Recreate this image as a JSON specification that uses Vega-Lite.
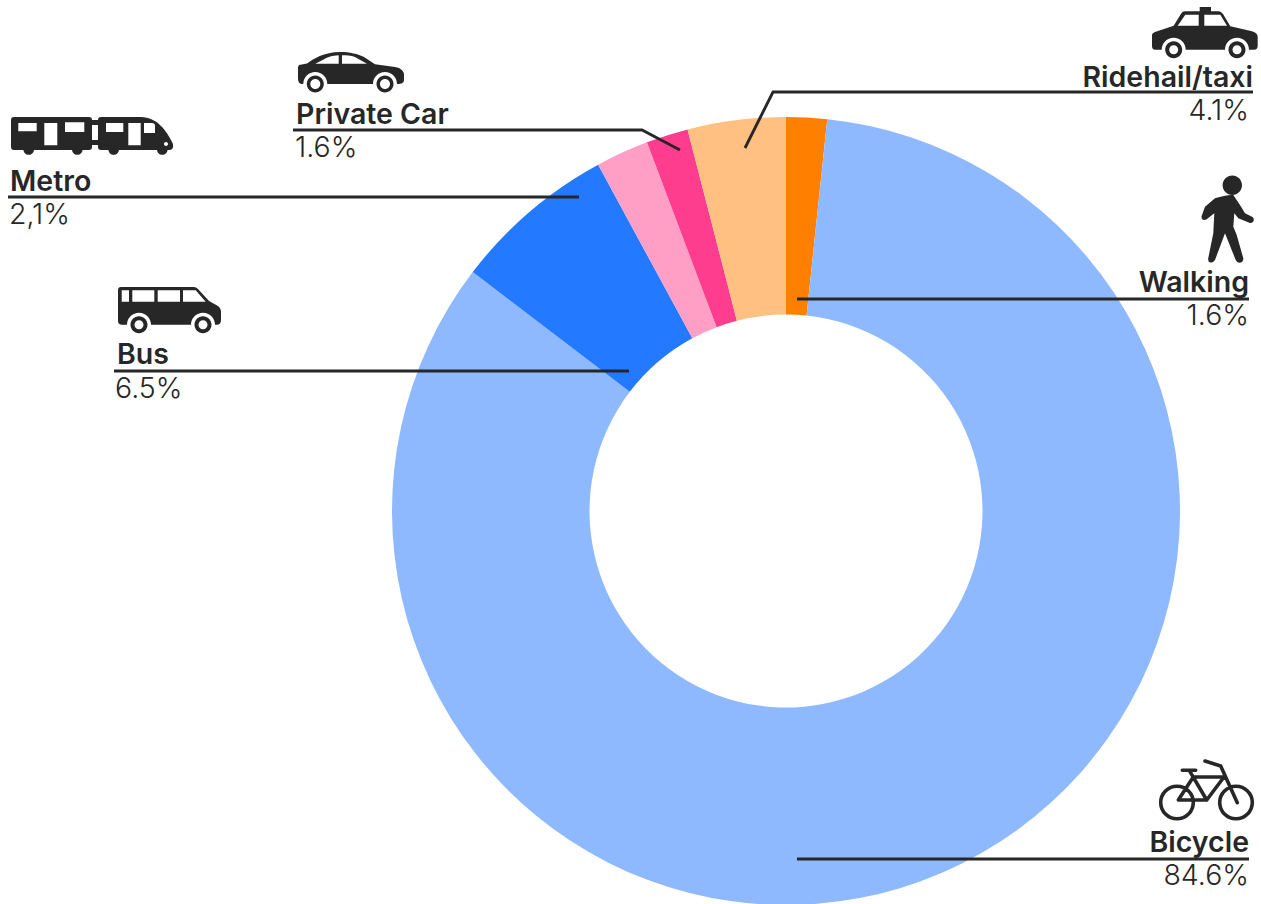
{
"$schema":"https://vega.github.io/schema/vega-lite/v6.json",
"width":1261,"height":904,"padding":0,
"autosize":{"type":"none"},
"background":"white",
"config":{"view":{"stroke":null}},
"datasets":{
"modes":[
{"mode":"Walking","rank":1,"share":1.67},
{"mode":"Bicycle","rank":2,"share":83.7},
{"mode":"Bus","rank":3,"share":6.72},
{"mode":"Metro","rank":4,"share":2.17},
{"mode":"Private Car","rank":5,"share":1.72},
{"mode":"Ridehail/taxi","rank":6,"share":4.02}
],
"callouts":[
{"mode":"Metro","pct":"2,1%","side":"left","nameX":10,"nameY":191,"pctX":9,"pctY":224,"iconX":11,"iconY":117},
{"mode":"Private Car","pct":"1.6%","side":"left","nameX":296,"nameY":124,"pctX":295,"pctY":157,"iconX":298,"iconY":52},
{"mode":"Bus","pct":"6.5%","side":"left","nameX":117,"nameY":364,"pctX":115,"pctY":398,"iconX":118,"iconY":287},
{"mode":"Ridehail/taxi","pct":"4.1%","side":"right","nameX":1253,"nameY":87,"pctX":1249,"pctY":120,"iconX":1152,"iconY":7},
{"mode":"Walking","pct":"1.6%","side":"right","nameX":1249,"nameY":292,"pctX":1249,"pctY":325,"iconX":1202,"iconY":177},
{"mode":"Bicycle","pct":"84.6%","side":"right","nameX":1249,"nameY":852,"pctX":1249,"pctY":885,"iconX":1160,"iconY":760}
],
"leaders":[
{"mode":"Metro","step":1,"px":8,"py":197},{"mode":"Metro","step":2,"px":579,"py":197},
{"mode":"Private Car","step":1,"px":293,"py":130},{"mode":"Private Car","step":2,"px":642,"py":130},{"mode":"Private Car","step":3,"px":680,"py":150},
{"mode":"Bus","step":1,"px":114,"py":371},{"mode":"Bus","step":2,"px":629,"py":371},
{"mode":"Ridehail/taxi","step":1,"px":1253,"py":92},{"mode":"Ridehail/taxi","step":2,"px":773,"py":92},{"mode":"Ridehail/taxi","step":3,"px":745,"py":148},
{"mode":"Walking","step":1,"px":1249,"py":299},{"mode":"Walking","step":2,"px":797,"py":299},
{"mode":"Bicycle","step":1,"px":1249,"py":859},{"mode":"Bicycle","step":2,"px":797,"py":859}
]
},
"layer":[
{"data":{"name":"modes"},
 "mark":{"type":"arc","outerRadius":394,"innerRadius":196.5,"stroke":null},
 "encoding":{
  "theta":{"field":"share","type":"quantitative","stack":true},
  "order":{"field":"rank","type":"ordinal"},
  "x":{"datum":786,"type":"quantitative","scale":{"domain":[0,1261],"nice":false,"zero":false},"axis":null},
  "y":{"datum":511,"type":"quantitative","scale":{"domain":[0,904],"nice":false,"zero":false,"reverse":true},"axis":null},
  "color":{"field":"mode","type":"nominal","legend":null,"scale":{"domain":["Walking","Bicycle","Bus","Metro","Private Car","Ridehail/taxi"],"range":["#ff8000","#8fb9ff","#2379ff","#ff9fc5","#ff3d8f","#ffc082"]}}
 }},
{"data":{"name":"leaders"},
 "mark":{"type":"line","color":"#272727","strokeWidth":2.8,"strokeJoin":"miter"},
 "encoding":{
  "x":{"field":"px","type":"quantitative","scale":{"domain":[0,1261],"nice":false,"zero":false},"axis":null},
  "y":{"field":"py","type":"quantitative","scale":{"domain":[0,904],"nice":false,"zero":false,"reverse":true},"axis":null},
  "detail":{"field":"mode"},
  "order":{"field":"step","type":"quantitative"}
 }},
{"data":{"name":"callouts"},"transform":[{"filter":"datum.side==='left'"}],
 "mark":{"type":"text","align":"left","baseline":"alphabetic","font":"Inter","fontWeight":600,"fontSize":28.5,"color":"#272727"},
 "encoding":{"text":{"field":"mode"},
  "x":{"field":"nameX","type":"quantitative","scale":{"domain":[0,1261],"nice":false,"zero":false},"axis":null},
  "y":{"field":"nameY","type":"quantitative","scale":{"domain":[0,904],"nice":false,"zero":false,"reverse":true},"axis":null}}},
{"data":{"name":"callouts"},"transform":[{"filter":"datum.side==='right'"}],
 "mark":{"type":"text","align":"right","baseline":"alphabetic","font":"Inter","fontWeight":600,"fontSize":28.5,"color":"#272727"},
 "encoding":{"text":{"field":"mode"},
  "x":{"field":"nameX","type":"quantitative","scale":{"domain":[0,1261],"nice":false,"zero":false},"axis":null},
  "y":{"field":"nameY","type":"quantitative","scale":{"domain":[0,904],"nice":false,"zero":false,"reverse":true},"axis":null}}},
{"data":{"name":"callouts"},"transform":[{"filter":"datum.side==='left'"}],
 "mark":{"type":"text","align":"left","baseline":"alphabetic","font":"Inter","fontWeight":300,"fontSize":28.5,"color":"#272727"},
 "encoding":{"text":{"field":"pct"},
  "x":{"field":"pctX","type":"quantitative","scale":{"domain":[0,1261],"nice":false,"zero":false},"axis":null},
  "y":{"field":"pctY","type":"quantitative","scale":{"domain":[0,904],"nice":false,"zero":false,"reverse":true},"axis":null}}},
{"data":{"name":"callouts"},"transform":[{"filter":"datum.side==='right'"}],
 "mark":{"type":"text","align":"right","baseline":"alphabetic","font":"Inter","fontWeight":300,"fontSize":28.5,"color":"#272727"},
 "encoding":{"text":{"field":"pct"},
  "x":{"field":"pctX","type":"quantitative","scale":{"domain":[0,1261],"nice":false,"zero":false},"axis":null},
  "y":{"field":"pctY","type":"quantitative","scale":{"domain":[0,904],"nice":false,"zero":false,"reverse":true},"axis":null}}},
{"data":{"name":"callouts"},"transform":[{"filter":"datum.mode==='Private Car'"}],
 "mark":{"type":"point","filled":true,"fill":"#272727","stroke":null,"opacity":1,"size":4,
  "shape":"M1 13L9 11.5C15 7 26 0 42 0C52 0 60 2 66 5L77 12.3L97 15C103 16 106 19 106 23V28C106 31 103 32 100 32H99A12 12 0 0 0 75 32H29.3A12 12 0 0 0 5.3 32H4C1 32 0 29 0 26V15ZM17.3 11.7H40.7V3.3C34 3.5 30 5 27 6.7ZM44 11.7H69L57 5C53 3.5 48 3.3 44 3.3ZM8.8 32a8.5 8.5 0 1 1 17 0a8.5 8.5 0 1 1-17 0zM12.3 32a5 5 0 1 0 10 0a5 5 0 1 0-10 0zM78.5 32a8.5 8.5 0 1 1 17 0a8.5 8.5 0 1 1-17 0zM82 32a5 5 0 1 0 10 0a5 5 0 1 0-10 0z"},
 "encoding":{
  "x":{"field":"iconX","type":"quantitative","scale":{"domain":[0,1261],"nice":false,"zero":false},"axis":null},
  "y":{"field":"iconY","type":"quantitative","scale":{"domain":[0,904],"nice":false,"zero":false,"reverse":true},"axis":null}}},
{"data":{"name":"callouts"},"transform":[{"filter":"datum.mode==='Metro'"}],
 "mark":{"type":"point","filled":true,"fill":"#272727","stroke":null,"opacity":1,"size":4,
  "shape":"M0 3Q0 0 3 0H78Q81 0 81 3H87Q87 0 90 0H130C146 0 156 14 162 27Q163 33 158 33H90Q87 33 87 30V28H81V30Q81 33 78 33H3Q0 33 0 30ZM81 8V23H87V8ZM7.3 6V14.3H25.7V6ZM33.3 6V28.3H46.3V6ZM54 5.3V15H73.3V5.3ZM95 6V15H112.3V6ZM117.3 6V28.3H129.7V6ZM133 6V16H144V9Q144 6 141 6ZM153 27a2 2 0 1 0 4 0a2 2 0 1 0-4 0zM23 32.5a5.3 5.3 0 0 1-10.6 0zM71.6 32.5a5.3 5.3 0 0 1-10.6 0zM108 32.5a5.3 5.3 0 0 1-10.6 0zM156.6 32.5a5.3 5.3 0 0 1-10.6 0z"},
 "encoding":{
  "x":{"field":"iconX","type":"quantitative","scale":{"domain":[0,1261],"nice":false,"zero":false},"axis":null},
  "y":{"field":"iconY","type":"quantitative","scale":{"domain":[0,904],"nice":false,"zero":false,"reverse":true},"axis":null}}},
{"data":{"name":"callouts"},"transform":[{"filter":"datum.mode==='Bus'"}],
 "mark":{"type":"point","filled":true,"fill":"#272727","stroke":null,"opacity":1,"size":4,
  "shape":"M0 3Q0 0 3 0H76Q78 0 80 2L91 14L100 19Q103 21 103 24V33Q103 37.7 99 37.7H97A12 12 0 0 0 73 37.7H33A12 12 0 0 0 9 37.7H4Q0 37.7 0 34ZM3.7 3.3V14.7H11V3.3ZM14.3 3.3V14.7H36.3V3.3ZM39.7 3.3V14.7H62V3.3ZM65 3.3V14.7H87.7L77.7 3.3ZM12.5 37.7a8.5 8.5 0 1 1 17 0a8.5 8.5 0 1 1-17 0zM16.5 37.7a4.5 4.5 0 1 0 9 0a4.5 4.5 0 1 0-9 0zM76.5 37.7a8.5 8.5 0 1 1 17 0a8.5 8.5 0 1 1-17 0zM80.5 37.7a4.5 4.5 0 1 0 9 0a4.5 4.5 0 1 0-9 0z"},
 "encoding":{
  "x":{"field":"iconX","type":"quantitative","scale":{"domain":[0,1261],"nice":false,"zero":false},"axis":null},
  "y":{"field":"iconY","type":"quantitative","scale":{"domain":[0,904],"nice":false,"zero":false,"reverse":true},"axis":null}}},
{"data":{"name":"callouts"},"transform":[{"filter":"datum.mode==='Ridehail/taxi'"}],
 "mark":{"type":"point","filled":true,"fill":"#272727","stroke":null,"opacity":1,"size":4,
  "shape":"M0 28Q0 26 3 25L21.7 18.7L29 6.7Q30.5 4.3 33 4.3H47.7V0H59V4.3H67Q69 4.3 71 7L78.3 19.3L100 24.3Q105.7 26 105.7 30V39Q105.7 42.7 102 42.7H97A12 12 0 0 0 73 42.7H33.7A12 12 0 0 0 9.7 42.7H3Q0 42.7 0 39ZM25.7 18.7H46.7V7.7H33.3ZM52.3 18.7H75L68.3 7.7H52.3ZM13.2 42.7a8.5 8.5 0 1 1 17 0a8.5 8.5 0 1 1-17 0zM17.2 42.7a4.5 4.5 0 1 0 9 0a4.5 4.5 0 1 0-9 0zM76.5 42.7a8.5 8.5 0 1 1 17 0a8.5 8.5 0 1 1-17 0zM80.5 42.7a4.5 4.5 0 1 0 9 0a4.5 4.5 0 1 0-9 0z"},
 "encoding":{
  "x":{"field":"iconX","type":"quantitative","scale":{"domain":[0,1261],"nice":false,"zero":false},"axis":null},
  "y":{"field":"iconY","type":"quantitative","scale":{"domain":[0,904],"nice":false,"zero":false,"reverse":true},"axis":null}}},
{"data":{"name":"callouts"},"transform":[{"filter":"datum.mode==='Walking'"}],
 "mark":{"type":"point","filled":true,"fill":"#272727","stroke":null,"opacity":1,"size":4,
  "shape":"M13 21.3C20 19 27 17.5 31.3 18L38 28L43 36.3L50.5 40Q52.5 42 51.5 44Q50.5 46.5 48 46L36.3 41.3L32.3 36.3L31.3 49.7L34.7 58L41.3 81.3Q41.5 85 38 85.7Q35 86 33.7 83L23 56.3L13 83Q11 86 8.5 85.5Q5.5 85 6.3 81L11.3 56.3L12.3 36.3L4.7 42.3Q2 44 0 42Q-1 40 0 38L3 29.7ZM20.6 8.3a9.7 9.7 0 1 1 19.4 0a9.7 9.7 0 1 1-19.4 0z"},
 "encoding":{
  "x":{"field":"iconX","type":"quantitative","scale":{"domain":[0,1261],"nice":false,"zero":false},"axis":null},
  "y":{"field":"iconY","type":"quantitative","scale":{"domain":[0,904],"nice":false,"zero":false,"reverse":true},"axis":null}}},
{"data":{"name":"callouts"},"transform":[{"filter":"datum.mode==='Bicycle'"}],
 "mark":{"type":"point","filled":false,"fill":null,"stroke":"#272727","strokeWidth":3.6,"strokeJoin":"round","strokeCap":"round","opacity":1,"size":4,
  "shape":"M0.7 42.5a16.3 16.3 0 1 1 32.6 0a16.3 16.3 0 1 1-32.6 0zM59.7 42.5a16.3 16.3 0 1 1 32.6 0a16.3 16.3 0 1 1-32.6 0zM18.3 40L33.3 17H64L46.7 40ZM46.7 40L30 11.7M22.3 10.3H35.7M45 1L60.7 6L77.3 42.7"},
 "encoding":{
  "x":{"field":"iconX","type":"quantitative","scale":{"domain":[0,1261],"nice":false,"zero":false},"axis":null},
  "y":{"field":"iconY","type":"quantitative","scale":{"domain":[0,904],"nice":false,"zero":false,"reverse":true},"axis":null}}}
]
}
